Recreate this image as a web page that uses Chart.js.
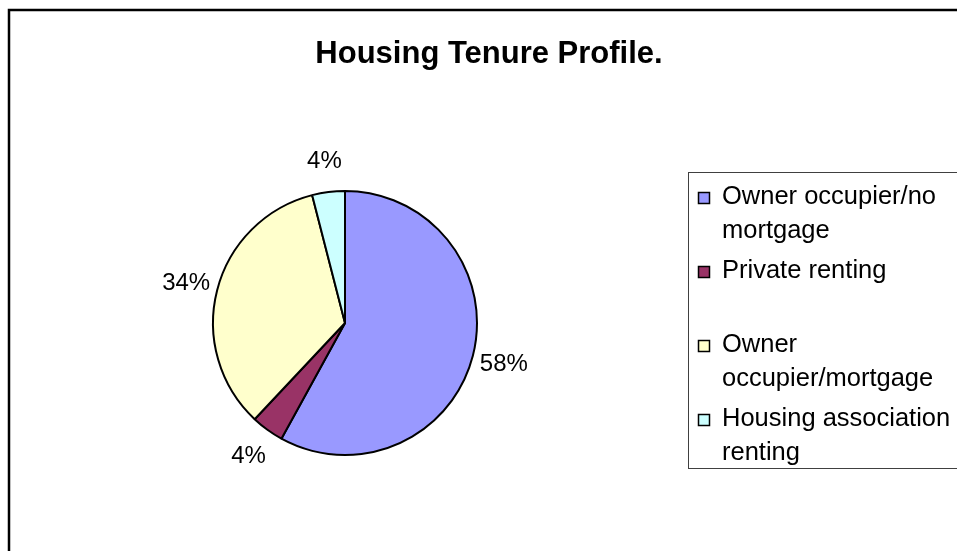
<!DOCTYPE html>
<html>
<head>
<meta charset="utf-8">
<script src="https://cdn.jsdelivr.net/npm/chart.js@4"></script>
<style>
  html, body { margin: 0; padding: 0; background: #fff; overflow: hidden; }
  canvas { display: block; }
</style>
</head>
<body>
<canvas id="pieChart" width="957" height="551"></canvas>
<script>
// datos
const titulo = "Housing Tenure Profile.";
const categorias = [
  "Owner occupier/no mortgage",
  "Private renting",
  "Owner occupier/mortgage",
  "Housing association renting",
];
const porcentajes = [58, 4, 34, 4];
const colores = ["#9999FF", "#993366", "#FFFFCC", "#CCFFFF"];

const FUENTE = "'Liberation Sans', Arial, sans-serif";

// partir texto en lineas segun ancho
function partirTexto(ctx, texto, maxAncho) {
  const palabras = texto.split(" ");
  const lineas = [];
  let actual = "";
  palabras.forEach((p) => {
    const prueba = actual ? actual + " " + p : p;
    if (actual && ctx.measureText(prueba).width > maxAncho) {
      lineas.push(actual);
      actual = p;
    } else {
      actual = prueba;
    }
  });
  if (actual) lineas.push(actual);
  return lineas;
}

const marcoPlugin = {
  id: "marco",
  beforeDraw(chart) {
    const ctx = chart.ctx;
    ctx.save();
    ctx.fillStyle = "#fff";
    ctx.fillRect(0, 0, chart.width, chart.height);
    ctx.strokeStyle = "#000";
    ctx.lineWidth = 2.5;
    ctx.strokeRect(9, 10, 2000, 2000);
    ctx.restore();
  },
};

const textosPlugin = {
  id: "textos",
  afterDraw(chart) {
    const ctx = chart.ctx;
    ctx.save();

    // titulo
    ctx.fillStyle = "#000";
    ctx.font = "bold 31px " + FUENTE;
    ctx.textAlign = "center";
    ctx.textBaseline = "alphabetic";
    ctx.fillText(titulo, 489, 63);

    // porcentajes fuera del pastel
    ctx.font = "24px " + FUENTE;
    ctx.textBaseline = "middle";
    const meta = chart.getDatasetMeta(0);
    meta.data.forEach((arco, i) => {
      const p = arco.getProps(["x", "y", "startAngle", "endAngle", "outerRadius"], true);
      const medio = (p.startAngle + p.endAngle) / 2;
      const d = p.outerRadius + 32;
      const x = p.x + Math.cos(medio) * d;
      const y = p.y + Math.sin(medio) * d;
      ctx.fillText(chart.data.datasets[0].data[i] + "%", x, y + 1);
    });

    // leyenda
    ctx.strokeStyle = "#404040";
    ctx.lineWidth = 1;
    ctx.strokeRect(688.5, 172.5, 400, 296);
    ctx.font = "25.5px " + FUENTE;
    ctx.textAlign = "left";
    ctx.textBaseline = "alphabetic";
    chart.data.labels.forEach((etiqueta, i) => {
      const base = 204 + 74 * i;
      ctx.fillStyle = colores[i];
      ctx.fillRect(698.5, base - 11.5, 11, 11);
      ctx.strokeStyle = "#000";
      ctx.lineWidth = 1.5;
      ctx.strokeRect(698.5, base - 11.5, 11, 11);
      ctx.fillStyle = "#000";
      partirTexto(ctx, etiqueta, 240).forEach((linea, j) => {
        ctx.fillText(linea, 722, base + j * 34);
      });
    });

    ctx.restore();
  },
};

new Chart(document.getElementById("pieChart").getContext("2d"), {
  type: "pie",
  data: {
    labels: categorias,
    datasets: [
      {
        data: porcentajes,
        backgroundColor: colores,
        borderColor: "#000",
        borderWidth: 2,
      },
    ],
  },
  options: {
    responsive: false,
    animation: false,
    events: [],
    layout: { padding: { left: 211, right: 478, top: 190, bottom: 95 } },
    plugins: {
      legend: { display: false },
      title: { display: false },
      tooltip: { enabled: false },
    },
  },
  plugins: [marcoPlugin, textosPlugin],
});
</script>
</body>
</html>
